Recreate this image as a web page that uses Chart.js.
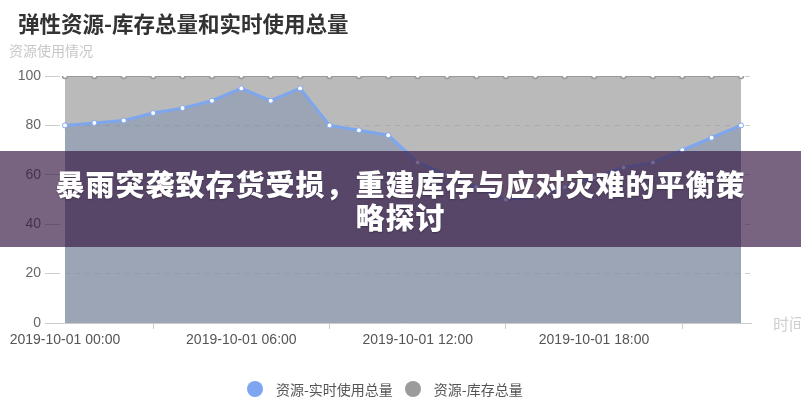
<!DOCTYPE html>
<html>
<head>
<meta charset="utf-8">
<script src="https://cdn.jsdelivr.net/npm/chart.js@4.4.1/dist/chart.umd.min.js"></script>
<style>
  html, body { margin: 0; padding: 0; background: #fff; overflow: hidden; }
  #wrap { position: relative; width: 801px; height: 400px; overflow: hidden; }
  #chart { position: absolute; left: 0; top: 0; }
  .txt { position: absolute; font-family: "Noto Sans CJK SC", sans-serif; white-space: nowrap; }
  #title { left: 18px; top: 9px; font-size: 21.5px; font-weight: bold; color: #333; line-height: 28px; }
  #yname { left: 9px; top: 40px; font-size: 14px; color: #c8c8c8; line-height: 20px; }
  #xname { left: 773px; top: 312px; font-size: 16px; color: #d0d0d0; line-height: 22px; }
  #legend { left: 247px; top: 378px; display: flex; font-size: 14px; color: #555; line-height: 22px; }
  .item { display: flex; align-items: center; margin-right: 12px; }
  .dot { width: 16px; height: 16px; border-radius: 50%; margin-right: 13px; }
  #banner { position: absolute; left: 0; top: 151px; width: 801px; height: 96px; background: rgba(54, 24, 65, 0.67); }
  #banner div { font-family: "Noto Sans CJK SC", sans-serif; font-weight: 900; font-size: 29px; letter-spacing: 1px; color: #fff; text-align: center; line-height: 33px; padding-top: 16px; text-shadow: 0 1px 2px rgba(0,0,0,0.3); }
</style>
</head>
<body>
<div id="wrap">
  <canvas id="chart" width="801" height="400"></canvas>
  <div class="txt" id="title">弹性资源-库存总量和实时使用总量</div>
  <div class="txt" id="yname">资源使用情况</div>
  <div class="txt" id="xname">时间</div>
  <div class="txt" id="legend"></div>
  <div id="banner"><div>暴雨突袭致存货受损，重建库存与应对灾难的平衡策<br>略探讨</div></div>
</div>
<script>
// hours of 2019-10-01
const hours = [0, 1, 2, 3, 4, 5, 6, 7, 8, 9, 10, 11, 12, 13, 14, 15, 16, 17, 18, 19, 20, 21, 22, 23];
const usage = [80, 81, 82, 85, 87, 90, 95, 90, 95, 80, 78, 76, 65, 60, 55, 50, 51, 55, 59, 63, 65, 70, 75, 80];
const stock = [100, 100, 100, 100, 100, 100, 100, 100, 100, 100, 100, 100, 100, 100, 100, 100, 100, 100, 100, 100, 100, 100, 100, 100];
const seriesNames = ['资源-实时使用总量', '资源-库存总量'];
const xTicks = [0, 3, 6, 9, 12, 15, 18, 21];
const xTickLabels = { 0: '2019-10-01 00:00', 6: '2019-10-01 06:00', 12: '2019-10-01 12:00', 18: '2019-10-01 18:00' };
const yTicks = [0, 20, 40, 60, 80, 100];

const blue = '#7ea6ee';
const grey = '#9a9a9a';

Chart.defaults.font.family = '"Liberation Sans", Arial, sans-serif';
Chart.defaults.font.size = 14;
Chart.defaults.color = '#555';

const ctx = document.getElementById('chart').getContext('2d');
new Chart(ctx, {
    type: 'line',
    data: {
        datasets: [
            {
                label: seriesNames[0],
                data: hours.map((h, i) => ({ x: h, y: usage[i] })),
                borderColor: blue,
                borderWidth: 3,
                backgroundColor: 'rgba(100, 125, 175, 0.35)',
                fill: 'origin',
                tension: 0,
                pointRadius: 2.5,
                pointBorderWidth: 1,
                pointBackgroundColor: '#fff',
                pointBorderColor: blue
            },
            {
                label: seriesNames[1],
                data: hours.map((h, i) => ({ x: h, y: stock[i] })),
                borderColor: grey,
                borderWidth: 2,
                backgroundColor: 'rgba(150, 150, 150, 0.66)',
                fill: 'origin',
                tension: 0,
                pointRadius: 2.5,
                pointBorderWidth: 1.5,
                pointBackgroundColor: '#fff',
                pointBorderColor: grey
            }
        ]
    },
    options: {
        responsive: false,
        animation: false,
        layout: { padding: { top: 76, right: 50, bottom: 47, left: 0 } },
        plugins: {
            legend: { display: false },
            tooltip: { enabled: false }
        },
        scales: {
            x: {
                type: 'linear',
                min: -0.34,
                max: 23.34,
                afterBuildTicks: (scale) => { scale.ticks = xTicks.map(v => ({ value: v })); },
                afterFit: (scale) => { scale.height = 30; },
                border: { color: '#ccc' },
                grid: {
                    drawOnChartArea: false,
                    tickLength: 6,
                    tickColor: (c) => (c.tick && c.tick.value % 6 === 3) ? '#ccc' : 'rgba(0,0,0,0)'
                },
                ticks: {
                    autoSkip: false,
                    maxRotation: 0,
                    padding: 3,
                    color: '#555',
                    callback: (v) => xTickLabels[v] || ''
                }
            },
            y: {
                min: 0,
                max: 100,
                afterBuildTicks: (scale) => { scale.ticks = yTicks.map(v => ({ value: v })); },
                afterFit: (scale) => { scale.width = 55; },
                border: { display: false, dash: [5, 5] },
                grid: {
                    color: '#cfcfcf',
                    tickBorderDash: [],
                    tickColor: '#ccc',
                    tickLength: 10
                },
                ticks: { padding: 4, color: '#666' }
            }
        }
    }
});

// legend
const legendEl = document.getElementById('legend');
[blue, grey].forEach((col, i) => {
    const item = document.createElement('div');
    item.className = 'item';
    item.innerHTML = '<span class="dot" style="background:' + (i === 0 ? '#7da5f0' : '#9b9b9b') + '"></span><span>' + seriesNames[i] + '</span>';
    legendEl.appendChild(item);
});
</script>
</body>
</html>
